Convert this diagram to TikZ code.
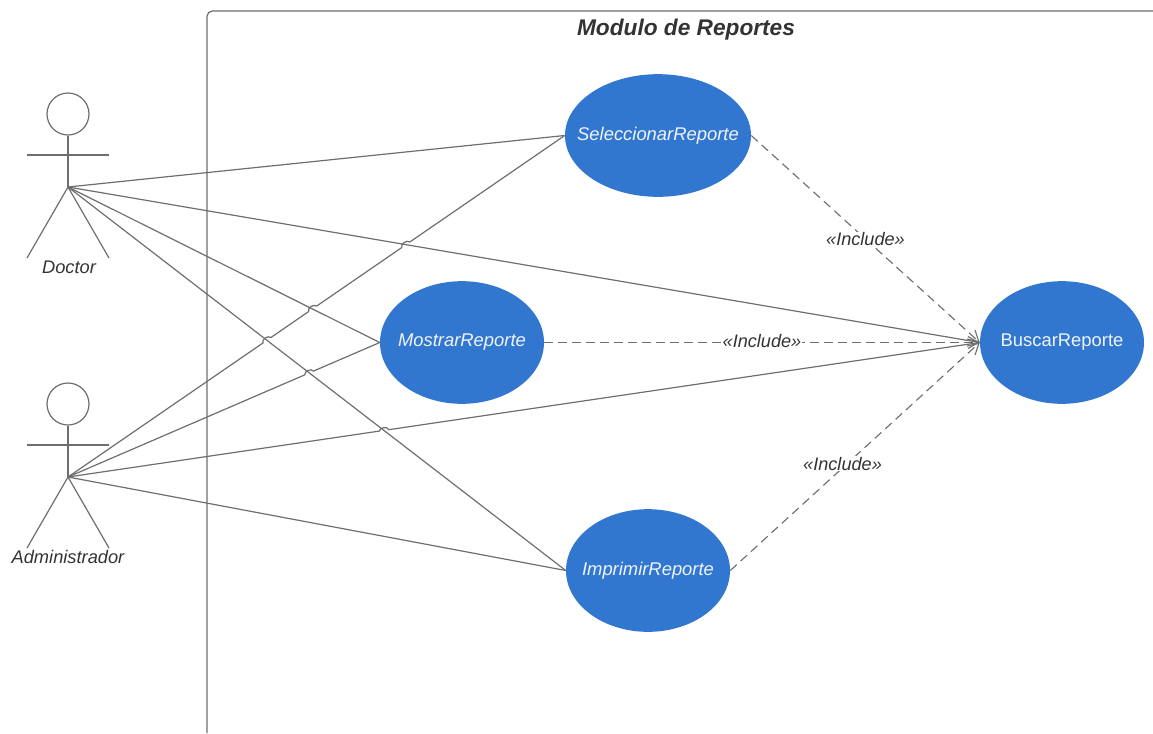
\documentclass[tikz,border=0pt]{standalone}
\usepackage{xcolor}
\usepackage{fontspec}
\setmainfont{Liberation Sans}
\usetikzlibrary{shapes.geometric,arrows.meta,calc}
\definecolor{usecaseblue}{HTML}{3277CF}
\definecolor{linegray}{HTML}{6E6E6E}
\definecolor{textgray}{HTML}{333333}
\tikzset{
  usecase/.style={ellipse,fill=usecaseblue,inner xsep=-12pt,inner ysep=0pt,minimum height=92pt,text=white!92!usecaseblue,font=\fontsize{13.8}{16}\selectfont},
  actorhead/.style={circle,draw=linegray,line width=0.9pt,fill=white,inner sep=0pt,minimum size=31.5pt},
  limb/.style={draw=linegray,line width=0.9pt},
  assoc/.style={draw=linegray,line width=0.9pt},
  hop/.style={bend left=80},
  includes/.style={draw=linegray,line width=0.85pt,dash pattern=on 6.5pt off 4pt,-{Straight Barb[length=8pt,width=9pt]}},
  actorname/.style={text=textgray,font=\fontsize{13.7}{16}\selectfont\itshape},
  includename/.style={fill=white,inner sep=0.6pt,text=textgray,font=\fontsize{13.6}{16}\selectfont\itshape}
}
\begin{document}
\begin{tikzpicture}[x=0.75pt,y=-0.75pt]
  \useasboundingbox (0,0) rectangle (1153,733);
  \coordinate (framebottom) at (207,733);
  \coordinate (frameright) at (1153,11);
  \draw[assoc,rounded corners=4pt] (framebottom) |- (frameright);
  \node[text=textgray,font=\fontsize{17}{20}\selectfont\bfseries\itshape] (title) at (686,29.5) {Modulo de Reportes};
  % casos de uso
  \node[usecase,minimum width=139.5pt] (sel) at (658,135.5) {\itshape SeleccionarReporte};
  \node[usecase,minimum width=123pt] (mostrar) at (462,342.5) {\itshape MostrarReporte};
  \node[usecase,minimum width=123pt] (imprimir) at (648,570.5) {\itshape ImprimirReporte};
  \node[usecase,minimum width=123pt] (buscar) at (1062,342.5) {BuscarReporte};
  % actores
  \node[actorhead] (doctorhead) at (68,114) {};
  \coordinate (doctor) at (68,187);
  \draw[limb] (doctorhead.south) -- (doctor);
  \draw[limb] (27,155) -- (109,155);
  \draw[limb] (27,258) -- (doctor) -- (109,258);
  \node[actorname] (doctorname) at (69,267) {Doctor};
  \node[actorhead] (adminhead) at (68,404) {};
  \coordinate (admin) at (68,477);
  \draw[limb] (adminhead.south) -- (admin);
  \draw[limb] (27,445) -- (109,445);
  \draw[limb] (27,548) -- (admin) -- (109,548);
  \node[actorname] (adminname) at (68,557) {Administrador};
  % asociaciones
  \draw[assoc] (doctor) -- (sel.west);
  \draw[assoc] (doctor) -- (mostrar.west);
  \draw[assoc] (doctor) -- (imprimir.west);
  \draw[assoc] (doctor) -- (buscar.west);
  \draw[assoc] (admin) -- ($(admin)!.3924!(sel.west)$) to[hop] ($(admin)!.4084!(sel.west)$)
    -- ($(admin)!.4844!(sel.west)$) to[hop] ($(admin)!.5004!(sel.west)$)
    -- ($(admin)!.672!(sel.west)$) to[hop] ($(admin)!.688!(sel.west)$) -- (sel.west);
  \draw[assoc] (admin) -- ($(admin)!.7595!(mostrar.west)$) to[hop] ($(admin)!.7875!(mostrar.west)$) -- (mostrar.west);
  \draw[assoc] (admin) -- ($(admin)!.3415!(buscar.west)$) to[hop] ($(admin)!.3519!(buscar.west)$) -- (buscar.west);
  \draw[assoc] (admin) -- (imprimir.west);
  % includes
  \draw[includes] (sel.east) -- node[includename,pos=.5] (inc1) {«Include»} (buscar.west);
  \draw[includes] (mostrar.east) -- node[includename,pos=.5,yshift=1pt] (inc2) {«Include»} (buscar.west);
  \draw[includes] (imprimir.east) -- node[includename,pos=.45,yshift=3pt] (inc3) {«Include»} (buscar.west);
\end{tikzpicture}
\end{document}
